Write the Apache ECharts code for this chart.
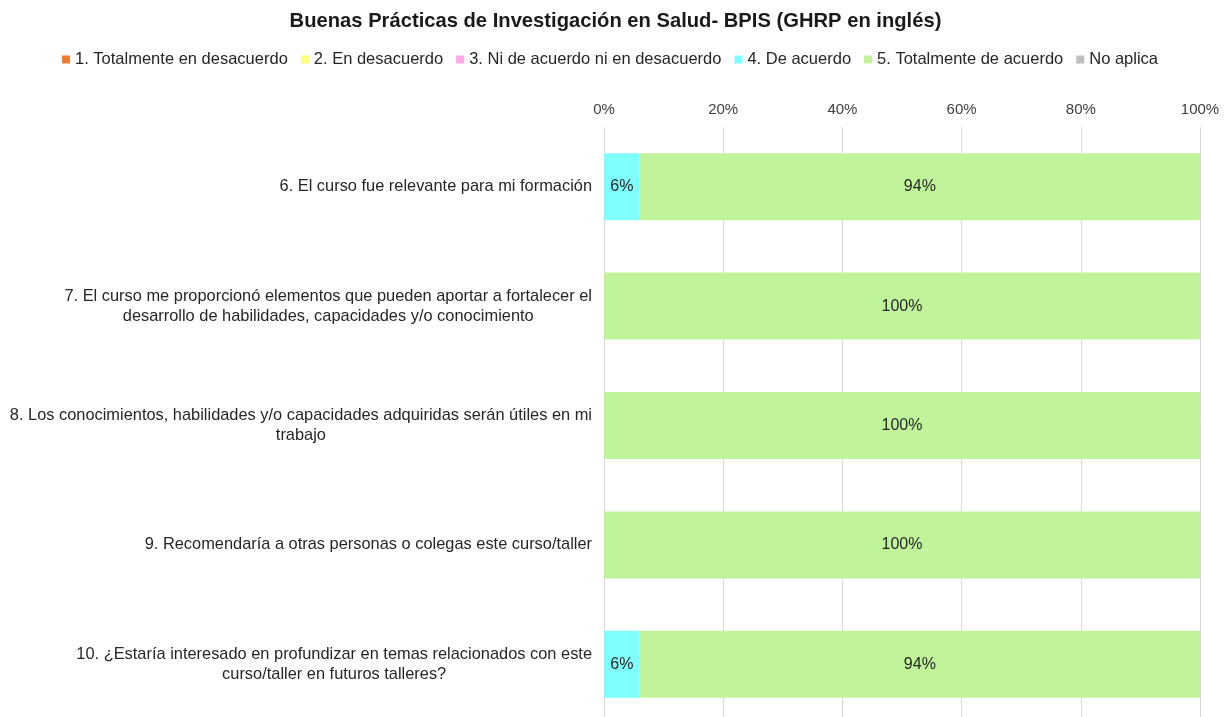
<!DOCTYPE html>
<html>
<head>
<meta charset="utf-8">
<script src="https://cdn.jsdelivr.net/npm/echarts@6/dist/echarts.min.js"></script>
<style>
  html, body { margin: 0; padding: 0; background: #fff; }
  #chart { width: 1231px; height: 717px; }
</style>
</head>
<body>
<div id="chart"></div>
<script>
var preguntas = [
  "6. El curso fue relevante para mi formación",
  "7. El curso me proporcionó elementos que pueden aportar a fortalecer el\ndesarrollo de habilidades, capacidades y/o conocimiento",
  "8. Los conocimientos, habilidades y/o capacidades adquiridas serán útiles en mi\ntrabajo",
  "9. Recomendaría a otras personas o colegas este curso/taller",
  "10. ¿Estaría interesado en profundizar en temas relacionados con este\ncurso/taller en futuros talleres?"
];
var nombres = [
  "1. Totalmente en desacuerdo",
  "2. En desacuerdo",
  "3. Ni de acuerdo ni en desacuerdo",
  "4. De acuerdo",
  "5. Totalmente de acuerdo",
  "No aplica"
];
var totalDesacuerdo = [0, 0, 0, 0, 0];
var desacuerdo = [0, 0, 0, 0, 0];
var neutral = [0, 0, 0, 0, 0];
var deAcuerdo = [6, 0, 0, 0, 6];
var totalAcuerdo = [94, 100, 100, 100, 94];
var noAplica = [0, 0, 0, 0, 0];
var colores = ["#ED7D31", "#FFFF80", "#FFA8E8", "#80FFFF", "#C1F39B", "#BFBFBF"];

var valores = [totalDesacuerdo, desacuerdo, neutral, deAcuerdo, totalAcuerdo, noAplica];
var fuente = "Liberation Sans, Arial, sans-serif";

var chart = echarts.init(document.getElementById("chart"));

var series = valores.map(function (v, i) {
  return {
    name: nombres[i],
    type: "bar",
    stack: "total",
    data: v,
    barWidth: 67,
    itemStyle: { color: colores[i] },
    label: {
      show: true,
      position: "inside",
      color: "#262626",
      fontSize: 16,
      fontFamily: fuente,
      formatter: function (p) {
        return p.value > 0 ? p.value + "%" : "";
      }
    },
    emphasis: { focus: "series" }
  };
});

var option = {
  animation: false,
  title: {
    text: "Buenas Prácticas de Investigación en Salud- BPIS (GHRP en inglés)",
    left: "center",
    top: 6,
    textStyle: { fontSize: 20.2, fontWeight: "bold", color: "#1a1a1a", fontFamily: fuente }
  },
  legend: {
    data: nombres,
    top: 46,
    left: 57,
    icon: "rect",
    itemWidth: 8,
    itemHeight: 8,
    itemGap: 13,
    textStyle: { fontSize: 16.5, color: "#262626", fontFamily: fuente }
  },
  grid: {
    left: 604,
    right: 31,
    top: 127,
    bottom: -7,
    outerBoundsMode: "none",
    containLabel: false
  },
  xAxis: {
    type: "value",
    position: "top",
    min: 0,
    max: 100,
    interval: 20,
    axisLine: { show: false },
    axisTick: { show: false },
    axisLabel: {
      formatter: "{value}%",
      fontSize: 15,
      color: "#404040",
      fontFamily: fuente,
      margin: 10
    },
    splitLine: { lineStyle: { color: "#D9D9D9", width: 1 } }
  },
  yAxis: {
    type: "category",
    inverse: true,
    data: preguntas,
    axisLine: { show: false },
    axisTick: { show: false },
    axisLabel: {
      margin: 12,
      fontSize: 16.4,
      color: "#262626",
      fontFamily: fuente,
      lineHeight: 20,
      formatter: function (v) {
        return v.split("\n").map(function (l) { return "{c|" + l + "}"; }).join("\n");
      },
      rich: {
        c: { align: "center", fontSize: 16.4, lineHeight: 20, color: "#262626", fontFamily: fuente }
      }
    }
  },
  tooltip: {
    trigger: "axis",
    axisPointer: { type: "shadow" }
  },
  series: series
};

chart.setOption(option);
</script>
</body>
</html>
